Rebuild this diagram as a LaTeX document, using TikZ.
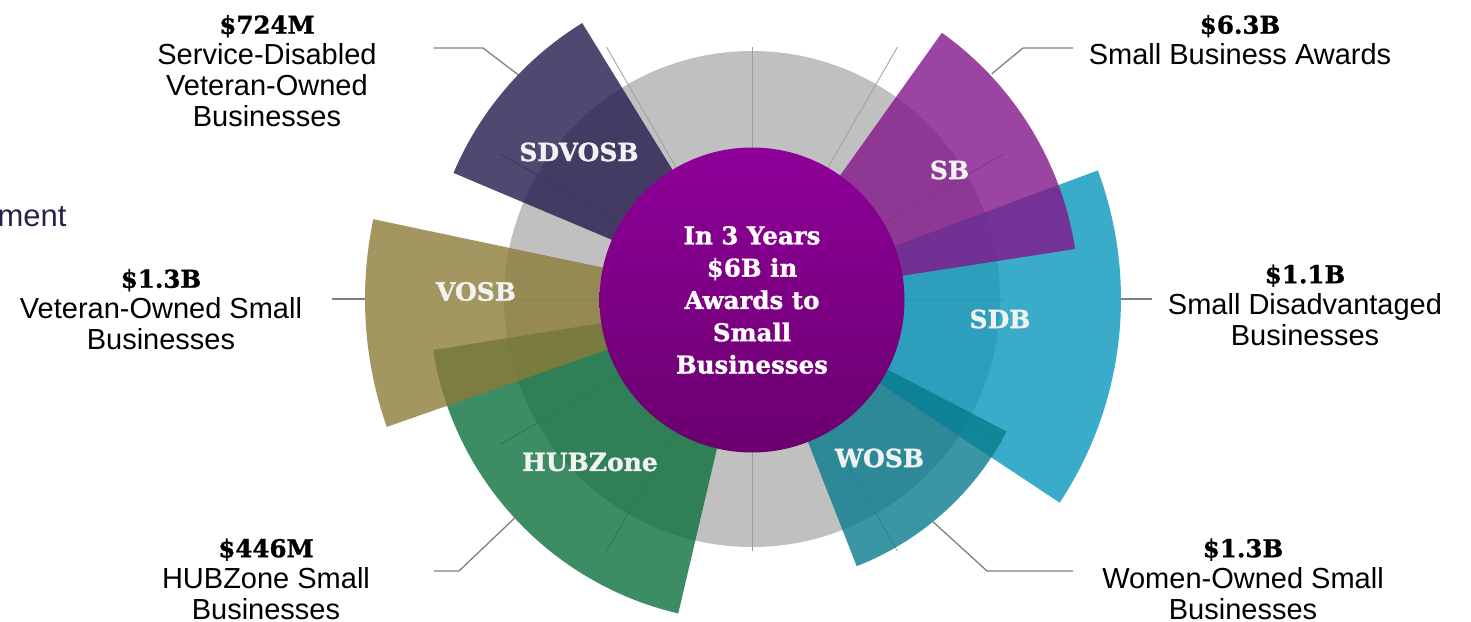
\documentclass[tikz,border=0pt]{standalone}
\usepackage{fontspec}
\setmainfont{Liberation Sans}
\newfontfamily\heavyserif{DejaVu Serif}[BoldFeatures={FakeBold=1.2}]
\usepackage{tikz}

\definecolor{ringc}{RGB}{192,192,192}
\definecolor{sdvosbc}{RGB}{36,26,76}
\definecolor{sbc}{RGB}{131,21,139}
\definecolor{sdbc}{RGB}{9,150,186}
\definecolor{wosbc}{RGB}{9,124,142}
\definecolor{hubc}{RGB}{11,111,61}
\definecolor{vosbc}{RGB}{140,124,56}
\definecolor{hubtop}{RGB}{142,0,153}
\definecolor{hubbot}{RGB}{107,0,111}
\definecolor{mentc}{RGB}{42,32,80}

\newcommand{\amount}[1]{{\heavyserif\bfseries\fontsize{24.5}{31}\selectfont #1}}

\begin{document}
\begin{tikzpicture}[x=1pt, y=1pt,
wedge/.style={fill opacity=.8},
spoke/.style={draw=black!38, line width=.8pt},
leader/.style={draw=black!50, line width=1.3pt},
inlabel/.style={text=white!95!black, font=\heavyserif\bfseries\fontsize{25}{26}\selectfont},
outlabel/.style={align=center, font=\fontsize{29}{31}\selectfont},
hub/.style={circle, minimum size=305pt, inner sep=0pt, top color=hubtop, bottom color=hubbot,
  align=center, text=white, font=\heavyserif\bfseries\fontsize{24.5}{32.3}\selectfont}]
\useasboundingbox (-752,-322) rectangle (719,299);
% grey disc and grid
\fill[ringc] (0,0) circle (248);
\begin{scope}
\clip (-251,-251) rectangle (251,251);
\foreach \a in {0,30,...,330} \draw[spoke] (0,0) -- (\a:400);
\end{scope}
% the six wedges
\foreach \c/\s/\e/\r in {sdbc/-33.5/20.4/369, wosbc/-68.6/-27.5/287, hubc/189.1/256.8/323,
  vosbc/168.1/199.3/387, sdvosbc/121.6/157.1/324, sbc/8.8/54.5/327}
  \fill[wedge, fill=\c] (0,0) -- (\s:\r) arc[start angle=\s, end angle=\e, radius=\r pt] -- cycle;
\node[hub] (hub) at (0,-1) {In 3 Years\\\$6B in\\Awards to\\Small\\Businesses};
\node[inlabel] (sdvosb) at (-173,147) {SDVOSB};
\node[inlabel] (sb) at (197.5,129) {SB};
\node[inlabel] (sdb) at (248,-20) {SDB};
\node[inlabel] (wosb) at (127.5,-159) {WOSB};
\node[inlabel] (hubzone) at (-162,-163) {HUBZone};
\node[inlabel] (vosb) at (-276,7.5) {VOSB};
% outer labels
\node[outlabel] (sdvosbtext) at (-485,228) {\amount{\$724M}\\Service-Disabled\\Veteran-Owned\\Businesses};
\node[outlabel] (sbtext) at (488,259) {\amount{\$6.3B}\\Small Business Awards};
\node[outlabel] (sdbtext) at (553,-6) {\amount{\$1.1B}\\Small Disadvantaged\\Businesses};
\node[outlabel] (vosbtext) at (-591,-10.5) {\amount{\$1.3B}\\Veteran-Owned Small\\Businesses};
\node[outlabel] (hubtext) at (-486,-280) {\amount{\$446M}\\HUBZone Small\\Businesses};
\node[outlabel] (wosbtext) at (491,-280) {\amount{\$1.3B}\\Women-Owned Small\\Businesses};
\node[anchor=base east, text=mentc, font=\fontsize{31}{31}\selectfont] (title) at (-682,73) {ment};
% leaders
\coordinate (sdvosbtip) at (136.2:324);
\coordinate (sdvosbend) at (-318,251);
\coordinate (sbtip) at (43.2:329);
\coordinate (sbend) at (321,251);
\coordinate (sdbtip) at (0:369);
\coordinate (sdbend) at (400,0);
\coordinate (vosbtip) at (180:387);
\coordinate (vosbend) at (-420,0);
\coordinate (hubtip) at (222.7:323);
\coordinate (hubend) at (-318,-272);
\coordinate (wosbtip) at (-50.9:287);
\coordinate (wosbend) at (321,-272);
\draw[leader] (sdvosbtip) -- (-269,251) -- (sdvosbend);
\draw[leader] (sbtip) -- (271,251) -- (sbend);
\draw[leader] (sdbtip) -- (sdbend);
\draw[leader] (vosbtip) -- (vosbend);
\draw[leader] (hubtip) -- (-293,-272) -- (hubend);
\draw[leader] (wosbtip) -- (235,-272) -- (wosbend);
\end{tikzpicture}
\end{document}
